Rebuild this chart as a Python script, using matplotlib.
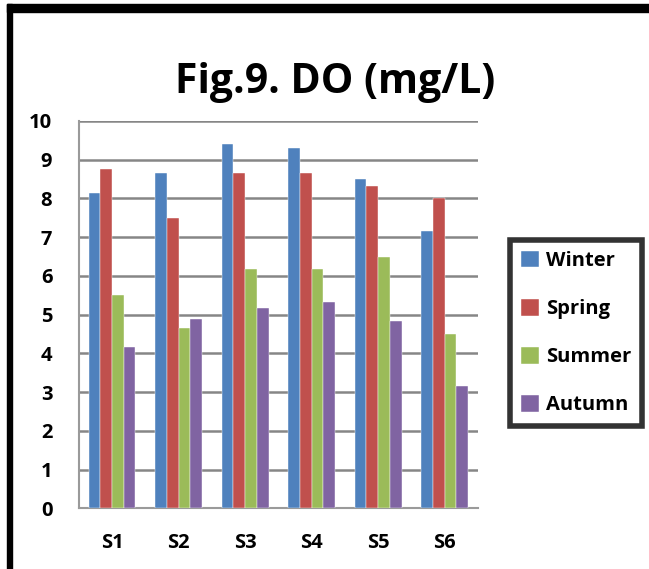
import numpy as np
import matplotlib
matplotlib.use("Agg")
from matplotlib import pyplot as plt
from matplotlib.patches import Rectangle

# DO readings (mg/L) per station and season
stations = ["S1", "S2", "S3", "S4", "S5", "S6"]
seasons = ["Winter", "Spring", "Summer", "Autumn"]
winter = [8.15, 8.65, 9.4, 9.3, 8.5, 7.15]
spring = [8.75, 7.5, 8.65, 8.65, 8.33, 8.0]
summer = [5.5, 4.65, 6.17, 6.17, 6.5, 4.5]
autumn = [4.17, 4.9, 5.17, 5.33, 4.83, 3.17]
colors = ["#4F81BD", "#C0504D", "#9BBB59", "#8064A2"]

plt.rcParams['font.family'] = ['Open Sans', 'DejaVu Sans']
plt.rcParams['font.weight'] = 700

W, H = 649, 569
fig = plt.figure(figsize=(W / 100, H / 100), dpi=100)
ax = fig.add_axes([78.7 / W, 1 - 508.3 / H, 399.3 / W, 387.3 / H])

x = np.arange(len(stations))
bw = 0.176
for i, (vals, name) in enumerate(zip([winter, spring, summer, autumn], seasons)):
    ax.bar(x + (i - 1.5) * bw, vals, bw, color=colors[i], label=name,
           edgecolor="white", linewidth=0.3, zorder=3)

ax.set_xlim(-0.5, len(stations) - 0.5)
ax.set_ylim(0, 10)
ax.set_yticks(range(0, 11))
ax.set_xticks(x)
ax.set_xticklabels(stations)
ax.tick_params(axis="both", length=0, labelsize=14.5)
ax.tick_params(axis="y", pad=19)
ax.tick_params(axis="x", pad=18)
ax.grid(axis="y", color="#868686", linewidth=1.8, zorder=0)
for s in ["top", "right"]:
    ax.spines[s].set_visible(False)
for s in ["left", "bottom"]:
    ax.spines[s].set_color("#9a9a9a")
    ax.spines[s].set_linewidth(1.5)

fig.text(335 / W, 1 - 83 / H, "Fig.9. DO (mg/L)", ha="center", va="center",
         fontsize=29.5, fontweight=700)

leg = fig.legend(loc="center", bbox_to_anchor=(576 / W, 1 - 333 / H),
                 prop={"size": 14.5, "weight": 700}, frameon=True,
                 fancybox=False, handlelength=0.9, handleheight=0.9,
                 handletextpad=0.35, labelspacing=1.38, borderpad=0.55,
                 borderaxespad=0)
leg.get_frame().set_edgecolor("black")
leg.get_frame().set_linewidth(4)

# page border lines
fig.add_artist(Rectangle((7 / W, 0), 5 / W, 1 - 4 / H, transform=fig.transFigure,
                         color="black", zorder=10))
fig.add_artist(Rectangle((7 / W, 1 - 11.5 / H), 1, 7.5 / H, transform=fig.transFigure,
                         color="black", zorder=10))

fig.savefig("out.png", dpi=100)
